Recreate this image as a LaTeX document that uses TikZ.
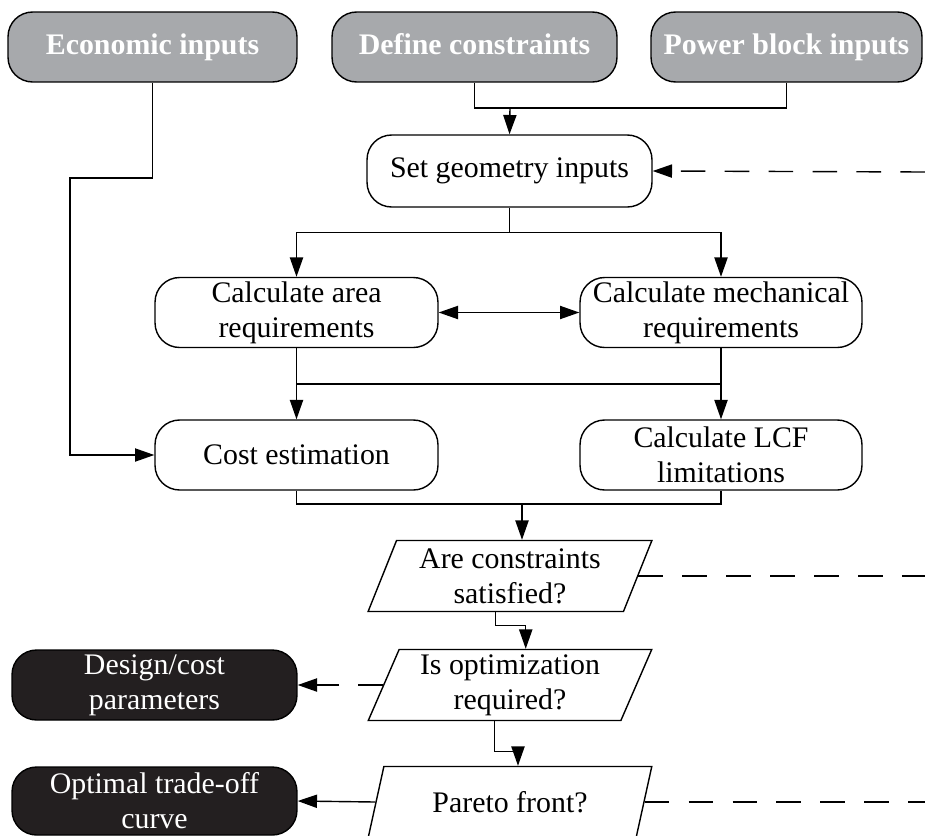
\documentclass[tikz,border=0pt]{standalone}
\usepackage{fontspec}
\setmainfont{Liberation Serif}
\usetikzlibrary{arrows.meta,shapes.geometric}
\definecolor{inputgray}{HTML}{A7A9AC}
\definecolor{outblack}{HTML}{231F20}
\newcommand{\flowfont}{\fontsize{17}{20}\selectfont}
\tikzset{
  box/.style={draw, rounded corners=14pt, align=center, minimum height=1.4cm, inner sep=2pt, font=\flowfont},
  inbox/.style={box, fill=inputgray, text=white, font=\flowfont\bfseries, text height=12pt, text depth=4pt},
  procbox/.style={box, fill=white},
  outbox/.style={box, fill=outblack, text=white},
  decbox/.style={draw, trapezium, trapezium left angle=68.5, trapezium right angle=111.5, trapezium stretches=true, align=center, minimum height=1.42cm, minimum width=5.68cm, inner sep=1pt, font=\flowfont},
  arr/.style={-{Triangle[length=11pt,width=7.5pt]}},
  dualarr/.style={{Triangle[length=11pt,width=7.5pt]}-{Triangle[length=11pt,width=7.5pt]}},
  dashlink/.style={dash pattern=on 14pt off 11pt}
}
\begin{document}
\begin{tikzpicture}[x=0.02cm, y=-0.02cm, line width=0.8pt]
  \useasboundingbox (0,0) rectangle (925,835);

  % Inputs along the top
  \node[inbox, minimum width=5.78cm] (econ) at (152.5,47) {Economic inputs};
  \node[inbox, minimum width=5.7cm] (defc) at (474.5,47) {Define constraints};
  \node[inbox, minimum width=5.42cm] (power) at (786.5,47) {Power block inputs};

  % Process steps
  \node[procbox, minimum width=5.7cm, minimum height=1.44cm] (setg) at (509.5,171) {Set geometry inputs};
  \node[procbox, minimum width=5.66cm] (area) at (296.5,312.5) {Calculate area\\requirements};
  \node[procbox, minimum width=5.64cm] (mech) at (721,312.5) {Calculate mechanical\\requirements};
  \node[procbox, minimum width=5.66cm] (cost) at (296.5,455) {Cost estimation};
  \node[procbox, minimum width=5.64cm] (lcf) at (721,455) {Calculate LCF\\limitations};

  % Decisions
  \node[decbox] (cons) at (510,576) {Are constraints\\satisfied?};
  \node[decbox] (opt) at (510,685) {Is optimization\\required?};
  \node[decbox] (pareto) at (510,802) {Pareto front?};

  % Outputs
  \node[outbox, minimum width=5.7cm] (design) at (154.5,685) {Design/cost\\parameters};
  \node[outbox, minimum width=5.7cm, minimum height=1.36cm] (tradeoff) at (154.5,801) {Optimal trade-off\\curve};

  % Junctions and loose ends
  \coordinate (jtop) at (510,108);
  \coordinate (ebend) at (70,178);
  \coordinate (jmid) at (0,384);
  \coordinate (jbot) at (522,504);
  \coordinate (loop1) at (925,172);
  \coordinate (loop2) at (925,576);
  \coordinate (loop3) at (925,802);

  % Connectors
  \draw (defc.south) |- (jtop) -| (power.south);
  \draw[arr] (jtop) -- (setg.north);
  \draw[arr] (econ.south) |- (ebend) |- (cost.west);
  \draw[arr] (setg.south) -- ++(0,25) -| (area.north);
  \draw[arr] (setg.south) ++(0,25) -| (mech.north);
  \draw[dualarr] (area.east) -- (mech.west);
  \draw[arr] (area.south) -- (cost.north);
  \draw[arr] (mech.south) -- (lcf.north);
  \draw (area.south |- jmid) -- (mech.south |- jmid);
  \draw (cost.south) |- (jbot) -| (lcf.south);
  \draw[arr] (jbot) -- (jbot |- cons.north);
  \draw[arr] (cons.bottom side) -- ++(0,13) -| (opt.top side);
  \draw[arr] (opt.bottom side) -- ++(0,30) -| (pareto.top side);
  \draw[arr] (pareto.left side) -- (tradeoff.east);

  % Dashed feedback lines
  \draw[arr, dashlink] (loop1) -- (setg.east);
  \draw[dashlink] (cons.right side) -- (loop2);
  \draw[arr, dashlink] (opt.left side) -- (design.east);
  \draw[dashlink] (pareto.right side) -- (loop3);
\end{tikzpicture}
\end{document}
